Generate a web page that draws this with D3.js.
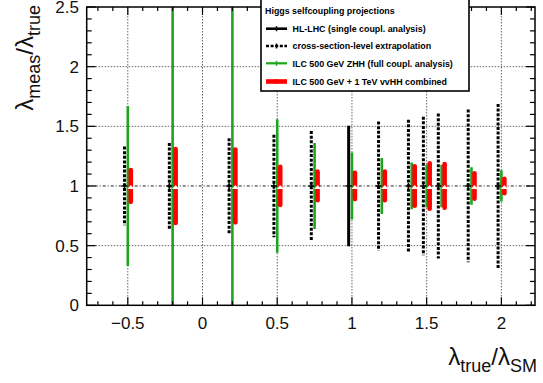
<!DOCTYPE html>
<html><head><meta charset="utf-8">
<script src="https://cdn.jsdelivr.net/npm/d3@7"></script>
<style>body{margin:0;background:#fff}svg{display:block}text{font-family:"Liberation Sans",Arial,sans-serif}</style>
</head><body><svg id="c" width="543" height="383"></svg>
<script>
// ---- data ----
const xTrue      = [-0.5, -0.2, 0.2, 0.5, 0.75, 1.0, 1.2, 1.4, 1.5, 1.6, 1.8, 2.0];
const xsecErr    = [0.33, 0.36, 0.40, 0.43, 0.46, null, 0.54, 0.555, 0.58, 0.607, 0.64, 0.687];
const zhhErr     = [0.67, 1.6, 1.6, 0.56, 0.36, 0.28, 0.235, 0.196, 0.18, 0.178, 0.157, 0.131];
const combErr    = [0.133, 0.31, 0.305, 0.16, 0.12, 0.11, 0.12, 0.165, 0.19, 0.183, 0.106, 0.06];
const hllhcX     = [1.0];
const hllhcErr   = [0.505];
const centralVal = 1.0;
const xTicks = [-0.5, 0, 0.5, 1, 1.5, 2];
const yTicks = [0, 0.5, 1, 1.5, 2, 2.5];
const legendTitle = "Higgs selfcoupling projections";
const legendLabels = ["HL-LHC (single coupl. analysis)", "cross-section-level extrapolation",
  "ILC 500 GeV ZHH (full coupl. analysis)", "ILC 500 GeV + 1 TeV vvHH combined"];

const GREEN = "#1ea51e", RED = "#ff0000";
const svg = d3.select("#c");
const L = 86.7, R = 535, T = 7, B = 305.3;
const x = d3.scaleLinear().domain([-0.775, 2.225]).range([L, R]);
const y = d3.scaleLinear().domain([0, 2.5]).range([B, T]);

svg.append("clipPath").attr("id","pc").append("rect").attr("x",L).attr("y",T).attr("width",R-L).attr("height",B-T);

// grid
const g = svg.append("g");
g.selectAll(".vg").data(xTicks).join("line").attr("x1",d=>x(d)).attr("x2",d=>x(d)).attr("y1",T).attr("y2",B)
  .attr("stroke","#666").attr("stroke-width",1).attr("stroke-dasharray","1.5,1.5");
g.selectAll(".hg").data(yTicks.filter(d=>d>0&&d<2.5)).join("line").attr("x1",L).attr("x2",R).attr("y1",d=>y(d)).attr("y2",d=>y(d))
  .attr("stroke",d=>d===1?"#222":"#666").attr("stroke-width",1).attr("stroke-dasharray",d=>d===1?"3,2,1,2":"1.5,1.5");

const marks = svg.append("g").attr("clip-path","url(#pc)");
const dOff = -0.022, rOff = 0.02;
// cross-section dotted
const xs = xTrue.map((v,i)=>({v, e:xsecErr[i]})).filter(d=>d.e!==null);
marks.selectAll(".xs").data(xs).join("line")
  .attr("x1",d=>x(d.v+dOff)).attr("x2",d=>x(d.v+dOff))
  .attr("y1",d=>y(centralVal+d.e)).attr("y2",d=>y(centralVal-d.e))
  .attr("stroke","#000").attr("stroke-width",3).attr("stroke-dasharray","3,1.6");
// HL-LHC solid
marks.selectAll(".hl").data(hllhcX.map((v,i)=>({v,e:hllhcErr[i]}))).join("line")
  .attr("x1",d=>x(d.v+dOff)).attr("x2",d=>x(d.v+dOff))
  .attr("y1",d=>y(centralVal+d.e)).attr("y2",d=>y(centralVal-d.e))
  .attr("stroke","#000").attr("stroke-width",3);
// green ZHH
marks.selectAll(".zh").data(xTrue.map((v,i)=>({v,e:zhhErr[i]}))).join("line")
  .attr("x1",d=>x(d.v)).attr("x2",d=>x(d.v))
  .attr("y1",d=>y(centralVal+d.e)).attr("y2",d=>y(centralVal-d.e))
  .attr("stroke",GREEN).attr("stroke-width",2.6);
// red combined
marks.selectAll(".cb").data(xTrue.map((v,i)=>({v,e:combErr[i]}))).join("line")
  .attr("x1",d=>x(d.v+rOff)).attr("x2",d=>x(d.v+rOff))
  .attr("y1",d=>y(centralVal+d.e)).attr("y2",d=>y(centralVal-d.e))
  .attr("stroke",RED).attr("stroke-width",4.6).attr("stroke-linecap","round");
// center markers
marks.selectAll(".mk").data(xTrue).join("path")
  .attr("d",d=>`M${x(d+dOff)-3},${y(centralVal)}h6M${x(d+dOff)},${y(centralVal)-3}v6`)
  .attr("stroke","#000").attr("stroke-width",1.5);
marks.selectAll(".mr").data(xTrue).join("path")
  .attr("d",d=>`M${x(d+rOff)-3.5},${y(centralVal)+3}l3.5,-4l3.5,4z`)
  .attr("fill","#fff");

// frame + ticks
const ax = svg.append("g").attr("stroke","#000").attr("fill","none");
ax.append("rect").attr("x",L).attr("y",T).attr("width",R-L).attr("height",B-T).attr("stroke-width",1.5);
const xMinor = d3.range(-7,23).map(i=>i/10);
const yMinor = d3.range(0,26).map(i=>i/10);
xMinor.forEach(v=>{
  const major = Math.abs(v*2-Math.round(v*2))<1e-6; const len = major?8:4;
  ax.append("line").attr("x1",x(v)).attr("x2",x(v)).attr("y1",B).attr("y2",B-len).attr("stroke-width",1.2);
  ax.append("line").attr("x1",x(v)).attr("x2",x(v)).attr("y1",T).attr("y2",T+len).attr("stroke-width",1.2);
});
yMinor.forEach(v=>{
  const major = Math.abs(v*2-Math.round(v*2))<1e-6; const len = major?9:5;
  ax.append("line").attr("x1",L).attr("x2",L+len).attr("y1",y(v)).attr("y2",y(v)).attr("stroke-width",1.2);
  ax.append("line").attr("x1",R).attr("x2",R-len).attr("y1",y(v)).attr("y2",y(v)).attr("stroke-width",1.2);
});
const fmt = d=> d<0 ? "\u2212"+Math.abs(d) : String(d);
svg.selectAll(".xl").data(xTicks).join("text").attr("x",d=>x(d)).attr("y",329).attr("text-anchor","middle")
  .attr("font-size",17).attr("fill","#111").text(fmt);
svg.selectAll(".yl").data(yTicks).join("text").attr("x",79).attr("y",d=>y(d)+6).attr("text-anchor","end")
  .attr("font-size",17).attr("fill","#111").text(fmt);

// axis titles
const xt = svg.append("text").attr("x",537).attr("y",365).attr("text-anchor","end").attr("font-size",24).attr("fill","#111");
xt.append("tspan").text("\u03bb");
xt.append("tspan").attr("font-size",18).attr("dy",7).text("true");
xt.append("tspan").attr("dy",-7).text("/\u03bb");
xt.append("tspan").attr("font-size",18).attr("dy",7).text("SM");
const yt = svg.append("text").attr("transform","translate(33,5) rotate(-90)").attr("text-anchor","end").attr("font-size",24).attr("fill","#111");
yt.append("tspan").text("\u03bb");
yt.append("tspan").attr("font-size",18).attr("dy",7).text("meas");
yt.append("tspan").attr("dy",-7).text("/\u03bb");
yt.append("tspan").attr("font-size",18).attr("dy",7).text("true");

// legend
const lg = svg.append("g");
lg.append("rect").attr("x",261).attr("y",-2).attr("width",208).attr("height",93).attr("fill","#fff").attr("stroke","#000").attr("stroke-width",1.6);
lg.append("text").attr("x",265).attr("y",13.5).attr("font-size",8.9).attr("font-weight","bold").attr("fill","#000").text(legendTitle);
const rowY = [28.7, 46, 63.3, 81.5];
const styles = [
  {stroke:"#000", w:2.6, dash:null},
  {stroke:"#000", w:2.6, dash:"3,1.6"},
  {stroke:GREEN, w:2.2, dash:null},
  {stroke:RED, w:4.6, dash:null}];
legendLabels.forEach((t,i)=>{
  const s = styles[i];
  const ln = lg.append("line").attr("x1",266).attr("x2",287).attr("y1",rowY[i]).attr("y2",rowY[i])
    .attr("stroke",s.stroke).attr("stroke-width",s.w);
  if(s.dash) ln.attr("stroke-dasharray",s.dash);
  lg.append("path").attr("d",`M${276.5},${rowY[i]-2.5}v5`).attr("stroke",s.stroke).attr("stroke-width",1.5);
  lg.append("text").attr("x",292.5).attr("y",rowY[i]+3.2).attr("font-size",8.9).attr("font-weight","bold").attr("fill","#000").text(t);
});
</script></body></html>
